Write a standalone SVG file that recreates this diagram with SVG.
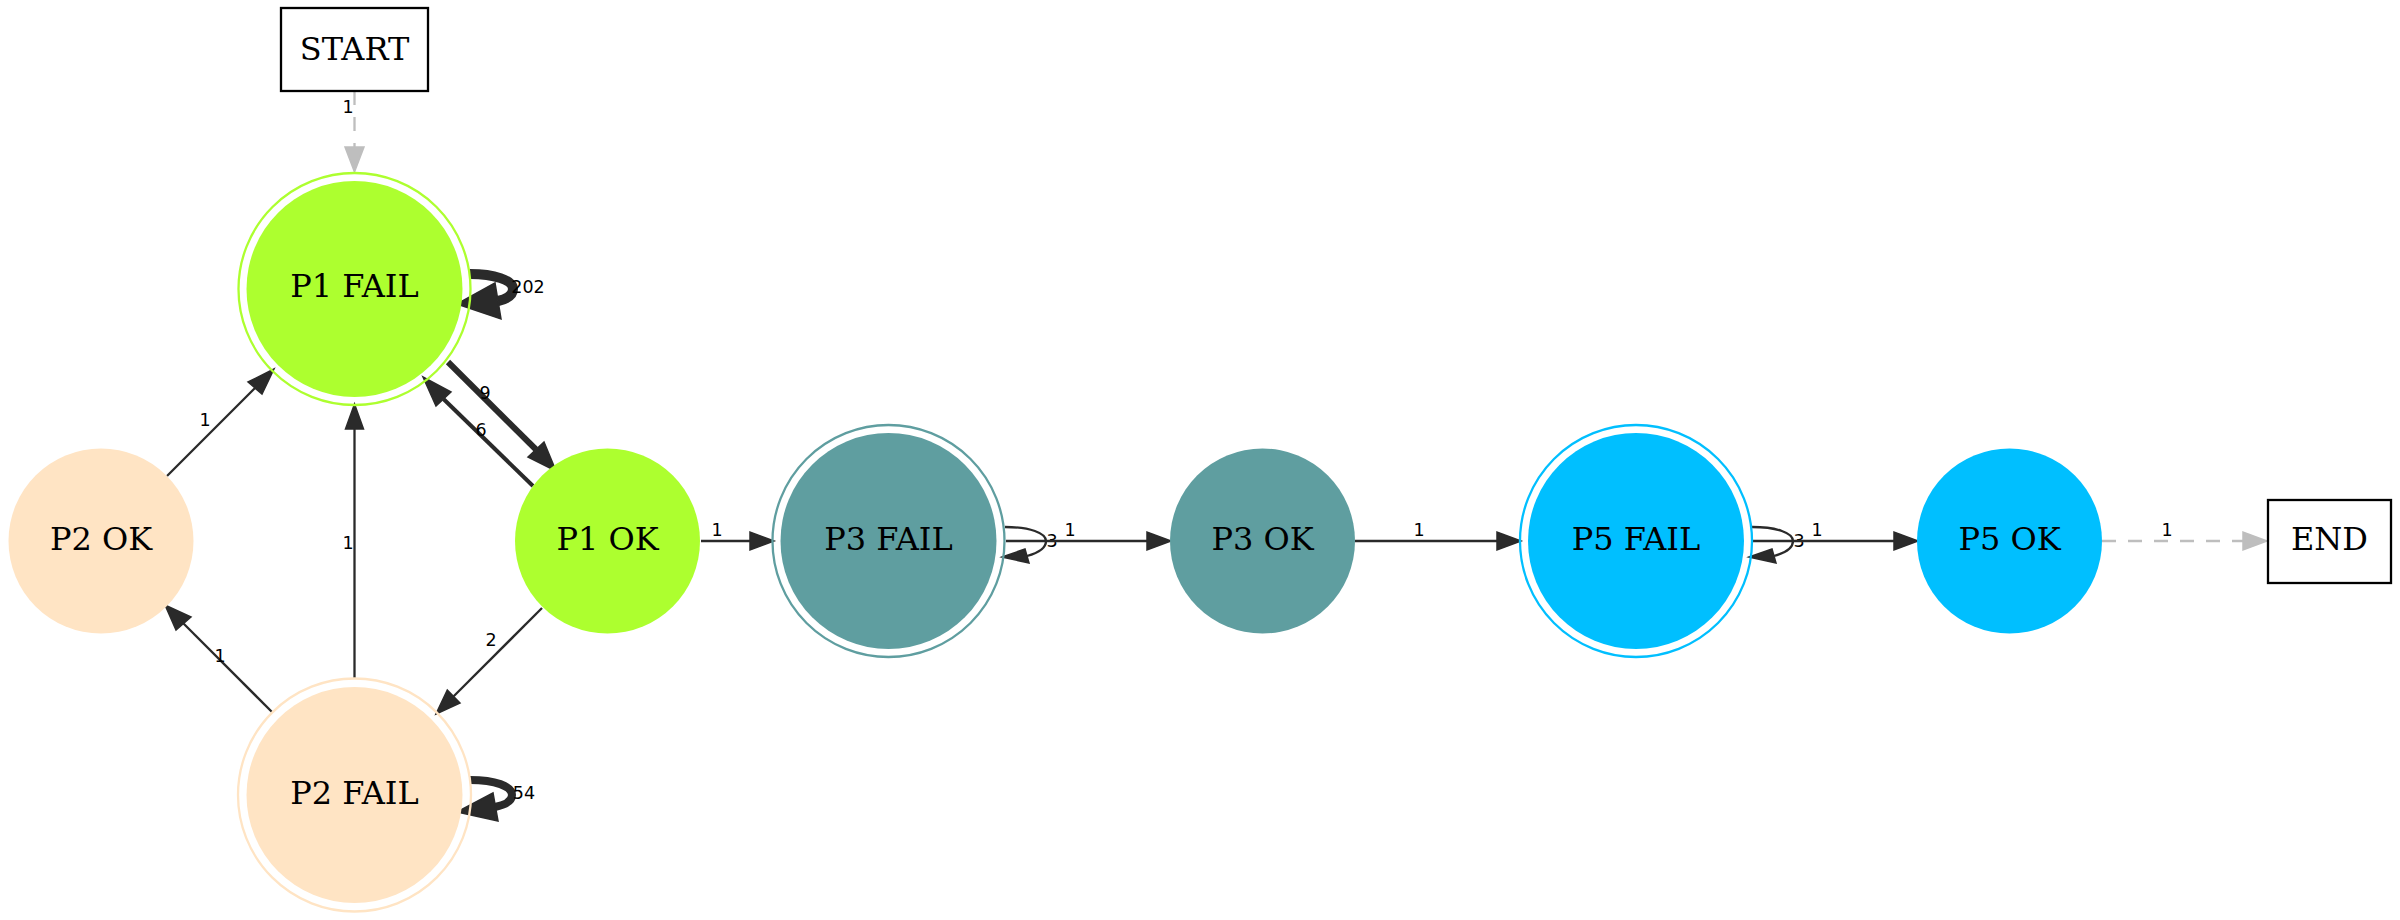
<svg xmlns="http://www.w3.org/2000/svg" width="2400" height="920" viewBox="0 0 2400 920">
<style>
.nl{font-family:"DejaVu Serif","Liberation Serif",serif;font-size:32px;fill:#000;text-anchor:middle}
.el{font-family:"DejaVu Sans","Liberation Sans",sans-serif;font-size:17.5px;fill:#000;text-anchor:middle}
.e{fill:none;stroke:#2a2a2a;stroke-width:2.3}
.ah{fill:#2a2a2a;stroke:#2a2a2a;stroke-width:1.5;stroke-linejoin:miter}
.d{fill:none;stroke:#bebebe;stroke-width:2.3;stroke-dasharray:14,12}
.dh{fill:#bebebe;stroke:#bebebe;stroke-width:1.5}
.box{fill:#fff;stroke:#000;stroke-width:2.3}
.g{fill:#adff2f}.go{fill:none;stroke:#adff2f;stroke-width:2.3}
.b{fill:#ffe4c4}.bo{fill:none;stroke:#ffe4c4;stroke-width:2.3}
.c{fill:#5f9ea0}.co{fill:none;stroke:#5f9ea0;stroke-width:2.3}
.s{fill:#00bfff}.so{fill:none;stroke:#00bfff;stroke-width:2.3}
</style>
<rect width="2400" height="920" fill="#fff"/>
<g id="edges">
  <!-- START -> P1 FAIL -->
  <path class="d" d="M354.5,91 L354.5,147"/>
  <polygon class="dh" points="354.5,172 345,147 364,147"/>
  <text class="el" x="348" y="113">1</text>
  <!-- P1 FAIL self loop 202 -->
  <path class="e" style="stroke-width:10" d="M470,274 C494,274 513,280 513,289 C513,295 507,299 498,301"/>
  <polygon class="ah" points="457,304 495,283 501,319"/>
  <text class="el" x="528" y="293">202</text>
  <!-- P1 FAIL -> P1 OK (9) -->
  <path class="e" style="stroke-width:6" d="M448,362 L536,449.5"/>
  <polygon class="ah" points="556,471 528,457 544,442"/>
  <text class="el" x="485" y="399">9</text>
  <!-- P1 OK -> P1 FAIL (6) -->
  <path class="e" style="stroke-width:4" d="M533,486 L443.5,399"/>
  <polygon class="ah" points="423,377 436,406 451,392"/>
  <text class="el" x="481" y="436">6</text>
  <!-- P2 OK -> P1 FAIL -->
  <path class="e" d="M167,476 L255,388"/>
  <polygon class="ah" points="274,369 248,382 262,394"/>
  <text class="el" x="205" y="426">1</text>
  <!-- P2 FAIL -> P1 FAIL -->
  <path class="e" d="M354.5,678 L354.5,429"/>
  <polygon class="ah" points="354.5,404 345.5,429 363.5,429"/>
  <text class="el" x="348" y="549">1</text>
  <!-- P2 FAIL -> P2 OK -->
  <path class="e" d="M272,712 L183.5,623.5"/>
  <polygon class="ah" points="165,605 176,630 191,617"/>
  <text class="el" x="220" y="662">1</text>
  <!-- P1 OK -> P2 FAIL -->
  <path class="e" d="M542,608 L453.7,696.3"/>
  <polygon class="ah" points="436,714 460,703 447.3,690"/>
  <text class="el" x="491" y="646">2</text>
  <!-- P2 FAIL self loop 54 -->
  <path class="e" style="stroke-width:8" d="M470,780 C495,780 512,786 512,795 C512,801 505,805 495,807"/>
  <polygon class="ah" points="457,812 493,793 498,821"/>
  <text class="el" x="524" y="799">54</text>
  <!-- P1 OK -> P3 FAIL -->
  <path class="e" d="M701,541 L750,541"/>
  <polygon class="ah" points="774,541 750,532 750,550"/>
  <text class="el" x="717" y="536">1</text>
  <!-- P3 FAIL self loop -->
  <path class="e" d="M1005,527 C1030,527 1046,533 1046,541 C1046,549 1038,553 1027,556"/>
  <polygon class="ah" points="1002,557 1025,549 1029,563"/>
  <text class="el" x="1052" y="547">3</text>
  <!-- P3 FAIL -> P3 OK -->
  <path class="e" d="M1006,541 L1147,541"/>
  <polygon class="ah" points="1171,541 1147,532 1147,550"/>
  <text class="el" x="1070" y="536">1</text>
  <!-- P3 OK -> P5 FAIL -->
  <path class="e" d="M1355,541 L1497,541"/>
  <polygon class="ah" points="1521,541 1497,532 1497,550"/>
  <text class="el" x="1419" y="536">1</text>
  <!-- P5 FAIL self loop -->
  <path class="e" d="M1752,527 C1777,527 1793,533 1793,541 C1793,549 1785,553 1774,556"/>
  <polygon class="ah" points="1749,557 1772,549 1776,563"/>
  <text class="el" x="1799" y="547">3</text>
  <!-- P5 FAIL -> P5 OK -->
  <path class="e" d="M1753,541 L1894,541"/>
  <polygon class="ah" points="1918,541 1894,532 1894,550"/>
  <text class="el" x="1817" y="536">1</text>
  <!-- P5 OK -> END -->
  <path class="d" d="M2102,541 L2243,541"/>
  <polygon class="dh" points="2267,541 2243,532 2243,550"/>
  <text class="el" x="2167" y="536">1</text>
</g>
<g id="START">
  <rect class="box" x="281" y="8" width="147" height="83"/>
  <text class="nl" x="354.5" y="60">START</text>
</g>
<g id="P1_FAIL">
  <circle class="go" cx="354.5" cy="289" r="116"/>
  <circle class="g" cx="354.5" cy="289" r="108"/>
  <text class="nl" x="354.5" y="297">P1 FAIL</text>
</g>
<g id="P2_OK">
  <circle class="b" cx="101" cy="541" r="92.5"/>
  <text class="nl" x="101" y="550">P2 OK</text>
</g>
<g id="P1_OK">
  <circle class="g" cx="607.5" cy="541" r="92.5"/>
  <text class="nl" x="607.5" y="550">P1 OK</text>
</g>
<g id="P2_FAIL">
  <circle class="bo" cx="354.5" cy="795" r="116.5"/>
  <circle class="b" cx="354.5" cy="795" r="108"/>
  <text class="nl" x="354.5" y="804">P2 FAIL</text>
</g>
<g id="P3_FAIL">
  <circle class="co" cx="888.5" cy="541" r="116"/>
  <circle class="c" cx="888.5" cy="541" r="108"/>
  <text class="nl" x="888.5" y="550">P3 FAIL</text>
</g>
<g id="P3_OK">
  <circle class="c" cx="1262.5" cy="541" r="92.5"/>
  <text class="nl" x="1262.5" y="550">P3 OK</text>
</g>
<g id="P5_FAIL">
  <circle class="so" cx="1636" cy="541" r="116"/>
  <circle class="s" cx="1636" cy="541" r="108"/>
  <text class="nl" x="1636" y="550">P5 FAIL</text>
</g>
<g id="P5_OK">
  <circle class="s" cx="2009.5" cy="541" r="92.5"/>
  <text class="nl" x="2009.5" y="550">P5 OK</text>
</g>
<g id="END">
  <rect class="box" x="2268" y="500" width="123" height="83"/>
  <text class="nl" x="2329.5" y="550">END</text>
</g>
</svg>
